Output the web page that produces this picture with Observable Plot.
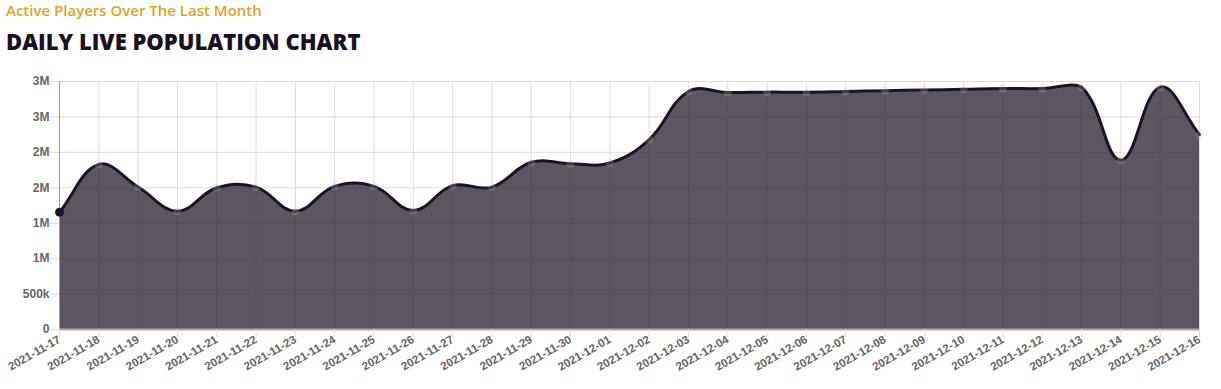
<!DOCTYPE html>
<html>
<head>
<meta charset="utf-8">
<script src="https://cdn.jsdelivr.net/npm/d3@7"></script>
<script src="https://cdn.jsdelivr.net/npm/@observablehq/plot@0.6"></script>
<style>
  html, body { margin: 0; padding: 0; background: #fff; }
  #wrap { position: relative; width: 1221px; height: 389px; overflow: hidden; }
  #sub { position: absolute; left: 6px; top: 0px; font-family: "Open Sans", sans-serif; font-weight: 600; font-size: 15px; color: #e5a11c; white-space: nowrap; }
  #title { position: absolute; left: 6px; top: 26px; font-family: "Open Sans", sans-serif; font-weight: 800; font-size: 22px; color: #1a1020; white-space: nowrap; }
  #chart { position: absolute; left: 0; top: 70px; }
</style>
</head>
<body>
<div id="wrap">
  <div id="sub">Active Players Over The Last Month</div>
  <div id="title">DAILY LIVE POPULATION CHART</div>
  <div id="chart"></div>
</div>
<script>
const dates = [
  "2021-11-17","2021-11-18","2021-11-19","2021-11-20","2021-11-21","2021-11-22",
  "2021-11-23","2021-11-24","2021-11-25","2021-11-26","2021-11-27","2021-11-28",
  "2021-11-29","2021-11-30","2021-12-01","2021-12-02","2021-12-03","2021-12-04",
  "2021-12-05","2021-12-06","2021-12-07","2021-12-08","2021-12-09","2021-12-10",
  "2021-12-11","2021-12-12","2021-12-13","2021-12-14","2021-12-15","2021-12-16"
];
const players = [
  1655000, 2330000, 2010000, 1670000, 2000000, 2010000,
  1670000, 2020000, 2020000, 1680000, 2030000, 2010000,
  2360000, 2340000, 2350000, 2680000, 3360000, 3345000,
  3350000, 3350000, 3360000, 3370000, 3380000, 3390000,
  3400000, 3400000, 3420000, 2390000, 3420000, 2750000
];
const yTicks = [0, 500000, 1000000, 1500000, 2000000, 2500000, 3000000, 3500000];
const yTickLabels = ["0", "500k", "1M", "1M", "2M", "2M", "3M", "3M"];

const data = dates.map((d, i) => ({date: d, value: players[i]}));
const font = '"Liberation Sans Narrow", "Liberation Sans", Arial, sans-serif';

const W = 1221, H = 319, MT = 11, MB = 60, ML = 59, MR = 22;
const area = {left: ML, right: W - MR, top: MT, bottom: H - MB};

// Spline like the one used by the source chart (tension 0.4, distance weighted, capped to chart area)
function splineCurve(t, box) {
  const clampX = v => Math.max(box.left, Math.min(box.right, v));
  const clampY = v => Math.max(box.top, Math.min(box.bottom, v));
  return function(context) {
    return {
      areaStart() { this._line = 0; },
      areaEnd() { this._line = NaN; },
      lineStart() { this._pts = []; },
      point(x, y) { this._pts.push([+x, +y]); },
      lineEnd() {
        const p = this._pts, n = p.length;
        if (n) {
          if (this._line) context.lineTo(p[0][0], p[0][1]); else context.moveTo(p[0][0], p[0][1]);
          if (n === 2) context.lineTo(p[1][0], p[1][1]);
          else if (n > 2) {
            const cp = p.map((cur, i) => {
              const prev = i > 0 ? p[i - 1] : cur;
              const next = i < n - 1 ? p[i + 1] : cur;
              const d01 = Math.hypot(cur[0] - prev[0], cur[1] - prev[1]);
              const d12 = Math.hypot(next[0] - cur[0], next[1] - cur[1]);
              let s01 = d01 / (d01 + d12), s12 = d12 / (d01 + d12);
              if (isNaN(s01)) s01 = 0;
              if (isNaN(s12)) s12 = 0;
              const fa = t * s01, fb = t * s12;
              return {
                prev: [clampX(cur[0] - fa * (next[0] - prev[0])), clampY(cur[1] - fa * (next[1] - prev[1]))],
                next: [clampX(cur[0] + fb * (next[0] - prev[0])), clampY(cur[1] + fb * (next[1] - prev[1]))]
              };
            });
            for (let i = 0; i < n - 1; ++i) {
              const a = cp[i].next, b = cp[i + 1].prev;
              context.bezierCurveTo(a[0], a[1], b[0], b[1], p[i + 1][0], p[i + 1][1]);
            }
          }
        }
        if (this._line || (this._line !== 0 && n === 1)) context.closePath();
        this._line = 1 - this._line;
      }
    };
  };
}
const curve = splineCurve(0.4, area);

const chart = Plot.plot({
  width: W,
  height: H,
  marginTop: MT,
  marginBottom: MB,
  marginLeft: ML,
  marginRight: MR,
  style: {fontFamily: font, fontSize: "12px", fontWeight: "bold", color: "#666", background: "#fff"},
  x: {type: "point", domain: dates, padding: 0, round: false},
  y: {domain: [0, 3500000]},
  marks: [
    Plot.gridY(yTicks, {stroke: "#ddd", strokeOpacity: 1}),
    Plot.gridX(dates, {stroke: "#ddd", strokeOpacity: 1}),
    Plot.areaY(data, {x: "date", y: "value", fill: "#1e1325", fillOpacity: 0.72, curve}),
    Plot.lineY(data, {x: "date", y: "value", stroke: "#1e1325", strokeWidth: 3, curve}),
    Plot.dot(data.slice(1), {x: "date", y: "value", r: 4, fill: "#c8c8c8", fillOpacity: 0.22, stroke: "none"}),
    Plot.ruleX(dates.slice(0, 1), {stroke: "#999", strokeWidth: 1}),
    Plot.ruleY([0], {stroke: "#aaa", strokeWidth: 2}),
    Plot.dot(data.slice(0, 1), {x: "date", y: "value", r: 4, fill: "#1e1325", stroke: "#1e1325", strokeWidth: 1}),
    Plot.axisY(yTicks, {tickFormat: (d, i) => yTickLabels[i], tickSize: 9, tickPadding: 1, stroke: "#ddd", fill: "#666", label: null, fontWeight: "bold"}),
    Plot.axisX(dates, {tickSize: 8, tickPadding: 1, tickRotate: -30, stroke: "#ddd", fill: "#666", label: null, fontWeight: "bold", fontSize: 11.5})
  ]
});
document.getElementById("chart").appendChild(chart);
</script>
</body>
</html>
